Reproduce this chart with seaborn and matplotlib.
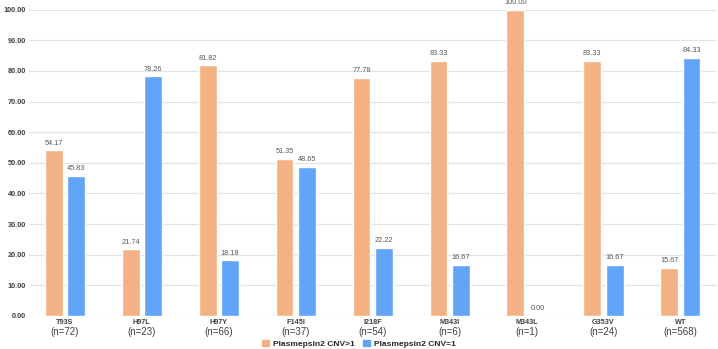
import numpy as np
import pandas as pd
import matplotlib
matplotlib.use('Agg')
import matplotlib.pyplot as plt
import seaborn as sns

# Data
mutations = ['T93S', 'H97L', 'H97Y', 'F145I', 'I218F', 'M343I', 'M343L', 'G353V', 'WT']
n_counts = ['(n=72)', '(n=23)', '(n=66)', '(n=37)', '(n=54)', '(n=6)', '(n=1)', '(n=24)', '(n=568)']
cnv_gt1 = [54.17, 21.74, 81.82, 51.35, 77.78, 83.33, 100.00, 83.33, 15.67]
cnv_eq1 = [45.83, 78.26, 18.18, 48.65, 22.22, 16.67, 0.00, 16.67, 84.33]
series = ['Plasmepsin2 CNV>1', 'Plasmepsin2 CNV=1']
colors = ['#F4B183', '#62A4F7']

df = pd.DataFrame({
    'mutation': mutations * 2,
    'value': cnv_gt1 + cnv_eq1,
    'series': [series[0]] * len(mutations) + [series[1]] * len(mutations),
})

sns.set_style('white')
plt.rcParams['font.family'] = ['Liberation Sans', 'DejaVu Sans']

fig = plt.figure(figsize=(7.18, 3.49), dpi=100)
ax = fig.add_axes([0.040, 0.095, 0.958, 0.877])

sns.barplot(data=df, x='mutation', y='value', hue='series', order=mutations,
            hue_order=series, palette=colors, width=0.58, gap=0.2,
            saturation=1, legend=False, ax=ax)

ax.set_ylim(0, 100)
ax.set_xlim(-0.47, len(mutations) - 0.53)
ax.set_yticks(np.arange(0, 101, 10))
ax.set_yticklabels([f'{v:.2f}' for v in np.arange(0, 101, 10)],
                   fontsize=5.3, fontweight='bold', color='#404040')
ax.grid(axis='y', color='#E3E3E3', lw=0.9)
ax.set_axisbelow(True)
for s in ax.spines.values():
    s.set_visible(False)
ax.tick_params(axis='both', length=0, pad=2)
ax.set_xlabel('')
ax.set_ylabel('')

# x labels: mutation name (bold) and sample size below
ax.set_xticks(range(len(mutations)))
ax.set_xticklabels(mutations, fontsize=5.2, fontweight='bold', color='#404040')
trans = matplotlib.transforms.blended_transform_factory(ax.transData, ax.transAxes)
for i, n in enumerate(n_counts):
    ax.text(i, -0.036, n, transform=trans, ha='center', va='top',
            fontsize=7, color='#404040')

for cont in ax.containers:
    ax.bar_label(cont, fmt='%.2f', fontsize=5.3, color='#595959', padding=2.5)

handles = [plt.Rectangle((0, 0), 1, 1, color=c) for c in colors]
fig.legend(handles, series, loc='lower center', bbox_to_anchor=(0.5, 0.0),
           ncol=2, frameon=False, prop={'size': 6, 'weight': 'bold'},
           borderaxespad=0, borderpad=0.15,
           handlelength=0.8, handleheight=0.8, columnspacing=1.0, handletextpad=0.5)

fig.savefig('out.png', dpi=100)
